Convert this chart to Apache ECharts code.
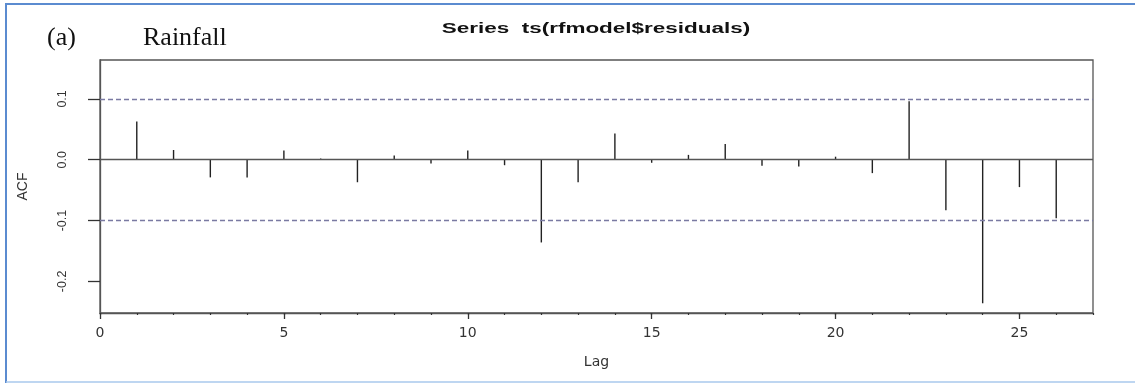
<!DOCTYPE html>
<html>
<head>
<meta charset="utf-8">
<script src="https://cdn.jsdelivr.net/npm/echarts@6/dist/echarts.min.js"></script>
<style>
  html, body { margin: 0; padding: 0; background: #fff; }
  #chart { width: 1135px; height: 383px; }
</style>
</head>
<body>
<div id="chart"></div>
<script>
// Autocorrelation of the rainfall model residuals, lags 1..26
const lags = [1, 2, 3, 4, 5, 6, 7, 8, 9, 10, 11, 12, 13, 14, 15, 16, 17, 18, 19, 20, 21, 22, 23, 24, 25, 26];
const acfValues = [0.063, 0.016, -0.029, -0.029, 0.015, 0.002, -0.037, 0.007, -0.006, 0.015, -0.009, -0.136, -0.037,
                   0.043, -0.005, 0.008, 0.026, -0.010, -0.011, 0.005, -0.022, 0.096, -0.083, -0.236, -0.045, -0.096];
// 95% confidence bound drawn as dashed lines
const confLimit = 0.0975;
const xTicks = [0, 5, 10, 15, 20, 25];
const yTicks = [-0.2, -0.1, 0, 0.1];

const chart = echarts.init(document.getElementById('chart'), null, { renderer: 'canvas' });

const axisColor = '#555';
const textColor = '#333';
const sans = 'Liberation Sans, Arial, sans-serif';
const wideSans = 'DejaVu Sans, Liberation Sans, sans-serif';

chart.setOption({
  animation: false,
  backgroundColor: '#fff',
  grid: {
    left: 100, top: 60, right: 42, bottom: 70,
    show: true, borderColor: axisColor, borderWidth: 1.3, backgroundColor: '#fff'
  },
  xAxis: [
    {
      type: 'value', min: 0, max: 27, interval: 5, position: 'bottom',
      axisLine: { show: true, onZero: false, lineStyle: { color: axisColor, width: 1.3 } },
      axisTick: { show: true, customValues: xTicks, length: 6, lineStyle: { color: textColor, width: 1.3 } },
      axisLabel: { customValues: xTicks, margin: 13, fontSize: 14, color: textColor, fontFamily: wideSans },
      splitLine: { show: false },
      name: 'Lag', nameLocation: 'middle', nameGap: 42,
      nameTextStyle: { fontSize: 14, color: textColor, fontFamily: wideSans }
    },
    {
      // small marks at every lag
      type: 'value', min: 0, max: 27, interval: 1, position: 'bottom',
      axisLine: { show: false, onZero: false },
      axisTick: { show: true, length: 2, lineStyle: { color: textColor, width: 1.2 } },
      axisLabel: { show: false },
      splitLine: { show: false }
    }
  ],
  yAxis: {
    type: 'value', min: -0.252, max: 0.164,
    axisLine: { show: true, onZero: false, lineStyle: { color: axisColor, width: 1.3 } },
    axisTick: { show: true, customValues: yTicks, length: 12, lineStyle: { color: textColor, width: 1.3 } },
    axisLabel: {
      customValues: yTicks, rotate: 90, margin: 31, fontSize: 12.5, color: textColor, fontFamily: sans,
      formatter: v => v.toFixed(1)
    },
    splitLine: { show: false },
    name: 'ACF', nameLocation: 'middle', nameRotate: 90, nameGap: 70,
    nameTextStyle: { fontSize: 14, color: textColor, fontFamily: sans }
  },
  series: [
    {
      type: 'bar',
      xAxisIndex: 0,
      barWidth: 1.4,
      itemStyle: { color: '#222' },
      data: lags.map((lag, i) => [lag, acfValues[i]]),
      markLine: {
        silent: true,
        symbol: 'none',
        label: { show: false },
        data: [
          { yAxis: 0, lineStyle: { type: 'solid', color: axisColor, width: 1.3 } },
          { yAxis: confLimit, lineStyle: { type: [5, 3], color: '#7a7aa2', width: 1.3 } },
          { yAxis: -confLimit, lineStyle: { type: [5, 3], color: '#7a7aa2', width: 1.3 } }
        ]
      }
    }
  ],
  graphic: [
    // panel frame
    { type: 'line', shape: { x1: 5, y1: 4, x2: 1135, y2: 4 }, style: { stroke: '#5b8bd0', lineWidth: 2 } },
    { type: 'line', shape: { x1: 6, y1: 3, x2: 6, y2: 383 }, style: { stroke: '#5b8bd0', lineWidth: 2 } },
    { type: 'line', shape: { x1: 6, y1: 382, x2: 1135, y2: 382 }, style: { stroke: '#a9c9ec', lineWidth: 1.5 } },
    // panel caption
    { type: 'text', x: 47, y: 38, style: { text: '(a)', font: '26px "Liberation Serif", "Times New Roman", serif', fill: '#111', verticalAlign: 'middle' } },
    { type: 'text', x: 143, y: 38, style: { text: 'Rainfall', font: '26px "Liberation Serif", "Times New Roman", serif', fill: '#111', verticalAlign: 'middle' } },
    // chart title
    { type: 'text', x: 596, y: 29, scaleX: 1.45,
      style: { text: 'Series  ts(rfmodel$residuals)', font: 'bold 15.5px "Liberation Sans", Arial, sans-serif', fill: '#111', align: 'center', verticalAlign: 'middle' } }
  ]
});
</script>
</body>
</html>
